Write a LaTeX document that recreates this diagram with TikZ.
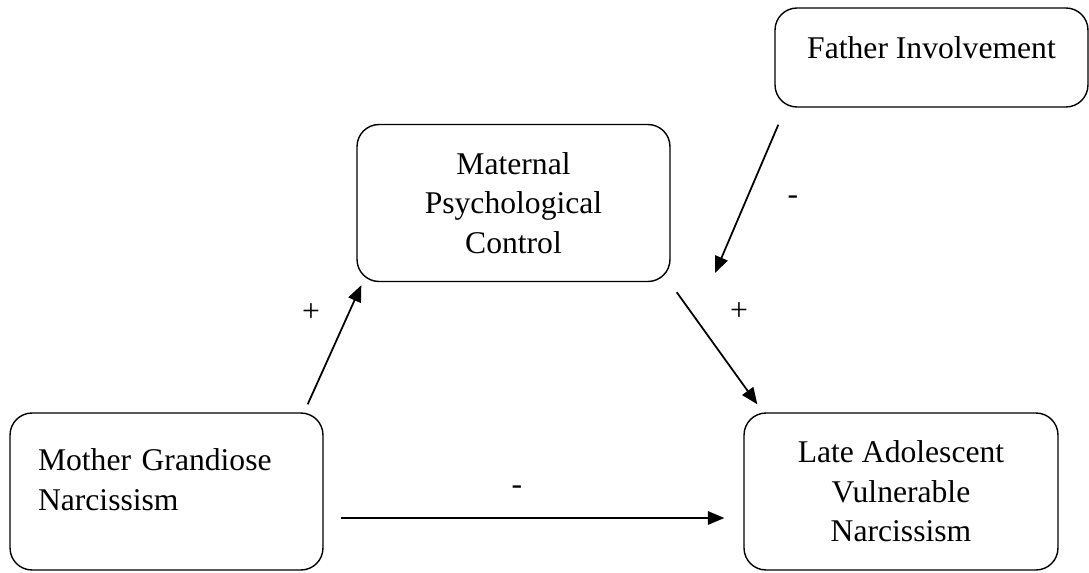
\documentclass[tikz,border=0pt]{standalone}
\usepackage{fontspec}
\setmainfont{Liberation Serif}
\usepackage{tikz}
\usetikzlibrary{arrows.meta}

\begin{document}
\begin{tikzpicture} [x=0.02cm,y=-0.02cm,font=\fontsize{18}{22.4}\selectfont,
  box/.style= {draw,rounded corners=0.44cm,line width=0.8pt,minimum width=6.26cm,minimum height=3.14cm,align=center,inner sep=0},
  link/.style= {-{Triangle[length=0.33cm,width=0.27cm]},line width=1pt}]

\useasboundingbox (0,0) rectangle (1089,572);

\node[box,minimum height=1.98cm,text depth=0.4cm] (father) at (931.5,57.5) {Father Involvement};
\node[box] (maternal) at (513.5,203) {Maternal\\Psychological\\Control};
\node[box,text width=5.14cm,align=left,text depth=1.26cm] (mother) at (166.5,491.5) {Mother Grandiose\\Narcissism};
\node[box,minimum width=6.28cm] (late) at (901,491.5) {Late Adolescent\\Vulnerable\\Narcissism};

\coordinate (mod) at (715,273);

\draw[link] ([shift={(-16,-8)}]mother.north east) -- ([shift={(5,3)}]maternal.south west);
\draw[link] ([shift={(6,10)}]maternal.south east) -- ([shift={(14,-8)}]late.north west);
\draw[link] ([shift={(4,17)}]father.south west) -- (mod);
\draw[link] ([shift={(17,26.5)}]mother.east) -- ([shift={(-19,26.5)}]late.west);

\node (signA) at (311,313) {+};
\node (signB) at (739,312) {+};
\node (signC) at (793,200) {-};
\node (signD) at (517,490) {-};

%\draw[red] (0,0) grid[step=50] (1089,572);
\end{tikzpicture}
\end{document}
